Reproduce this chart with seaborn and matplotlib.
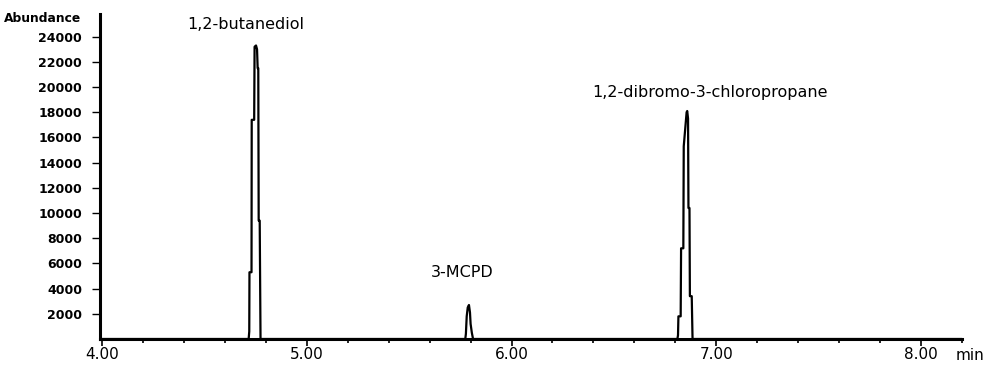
import numpy as np
import pandas as pd
import matplotlib
matplotlib.use("Agg")
import matplotlib.pyplot as plt
import seaborn as sns
from matplotlib.ticker import MultipleLocator

# trace (retention time in min, abundance)
rt_butanediol = [4.716, 4.719, 4.720, 4.730, 4.731, 4.743, 4.745, 4.752, 4.757, 4.760, 4.763, 4.765, 4.770, 4.774]
ab_butanediol = [0, 600, 5300, 5300, 17400, 17400, 23200, 23300, 23000, 21500, 21500, 9400, 9400, 0]

rt_mcpd = [5.774, 5.777, 5.781, 5.786, 5.792, 5.797, 5.800, 5.806, 5.812]
ab_mcpd = [0, 400, 1800, 2500, 2700, 2100, 1200, 500, 0]

rt_dbcp = [6.810, 6.813, 6.815, 6.826, 6.828, 6.839, 6.841, 6.855, 6.858, 6.862, 6.864, 6.869, 6.871, 6.880, 6.884]
ab_dbcp = [0, 300, 1800, 1800, 7200, 7200, 15300, 18000, 18100, 17500, 10400, 10400, 3400, 3400, 0]

peak_names = ["1,2-butanediol", "3-MCPD", "1,2-dibromo-3-chloropropane"]
y_ticks = [2000, 4000, 6000, 8000, 10000, 12000, 14000, 16000, 18000, 20000, 22000, 24000]
x_ticks = [4.00, 5.00, 6.00, 7.00, 8.00]

rt = [4.0] + rt_butanediol + rt_mcpd + rt_dbcp + [8.2]
ab = [0] + ab_butanediol + ab_mcpd + ab_dbcp + [0]
df = pd.DataFrame({"rt": rt, "abundance": ab})

sns.set_style("ticks")
plt.rcParams["font.family"] = ["DejaVu Sans"]
plt.rcParams["text.color"] = "black"
plt.rcParams["xtick.color"] = "black"
plt.rcParams["ytick.color"] = "black"

fig = plt.figure(figsize=(9.86, 3.65), dpi=100)
ax = fig.add_axes([100 / 986, 26 / 365, 862 / 986, 325 / 365])

sns.lineplot(data=df, x="rt", y="abundance", sort=False, estimator=None,
             color="black", linewidth=1.6, ax=ax)
for l in ax.lines:
    l.set_clip_on(False)

ax.set_xlim(3.99, 8.2)
ax.set_ylim(0, 25800)
ax.set_xlabel("")
ax.set_ylabel("")

ax.set_xticks(x_ticks)
ax.set_xticklabels([f"{v:.2f}" for v in x_ticks], fontsize=11)
ax.xaxis.set_minor_locator(MultipleLocator(0.2))
ax.set_yticks(y_ticks)
ax.set_yticklabels([str(v) for v in y_ticks], fontsize=9, fontweight="bold")
ax.tick_params(axis="x", which="major", length=5, width=1.2, pad=1)
ax.tick_params(axis="x", which="minor", length=3, width=1.2)
ax.tick_params(axis="y", length=6, width=1.0, pad=7)

for s in ["top", "right"]:
    ax.spines[s].set_visible(False)
for s in ["left", "bottom"]:
    ax.spines[s].set_linewidth(2.2)
    ax.spines[s].set_color("black")

label_pos = [(4.70, 24400), (5.76, 4700), (6.97, 19000)]
for name, (x, y) in zip(peak_names, label_pos):
    ax.text(x, y, name, ha="center", va="bottom", fontsize=11.5, color="black")

fig.text(4 / 986, 1 - 19 / 365, "Abundance", fontsize=8.8, fontweight="bold", va="center")
fig.text(956 / 986, 10 / 365, "min", fontsize=11, va="center")

fig.savefig("out.png", dpi=100)
